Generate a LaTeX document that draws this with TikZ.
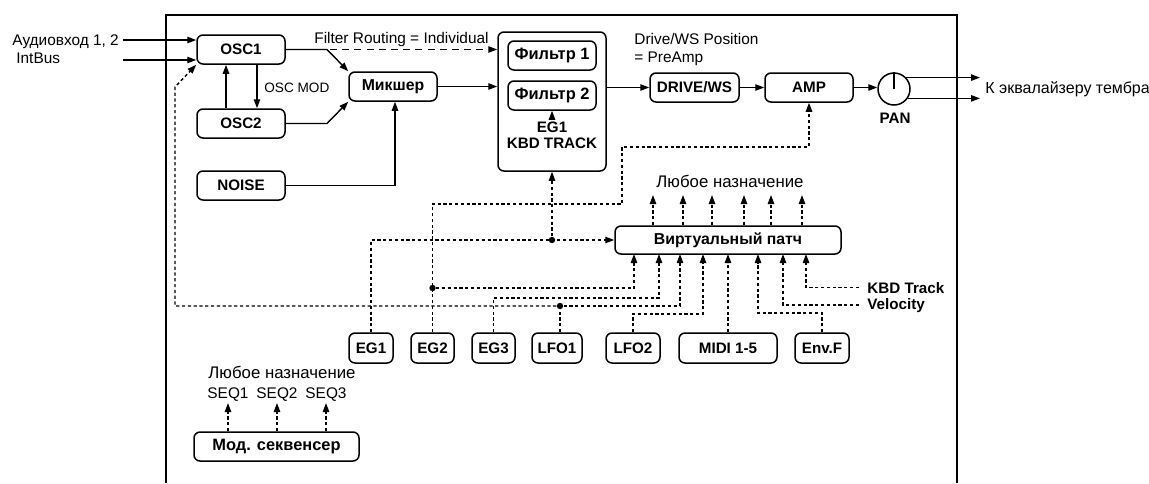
\documentclass[tikz,border=0pt]{standalone}
\usepackage{fontspec}
\setmainfont{Liberation Sans}
\usetikzlibrary{arrows.meta}
\begin{document}
\begin{tikzpicture}[x=0.5pt,y=-0.5pt,
  every node/.style={font=\fontsize{7.7}{9}\selectfont, inner sep=1pt},
  blk/.style={draw, line width=0.75pt, rounded corners=3pt, inner sep=0pt, minimum height=14.5pt, font=\fontsize{7.6}{9}\selectfont\bfseries},
  cyr/.style={font=\fontsize{8.2}{9}\selectfont\bfseries},
  con/.style={line width=0.7pt},
  arr/.style={con, -{Triangle[length=4.5pt,width=3.2pt]}},
  dsh/.style={dash pattern=on 1.6pt off 1.3pt},
  ldsh/.style={dash pattern=on 3.5pt off 2.6pt},
  jdot/.style={circle, fill, inner sep=0pt, minimum size=3.2pt},
  lbl/.style={anchor=base west},
  blbl/.style={anchor=base west, font=\fontsize{7.6}{9}\selectfont\bfseries}
]
\useasboundingbox (0,0) rectangle (1149,483);
% frame
\draw[line width=1pt] (166,483) -- (166,15) -- (957,15) -- (957,483);

% blocks
\node[blk, minimum width=44pt] (osc1) at (241,49.5) {OSC1};
\node[blk, minimum width=44pt] (osc2) at (241,123.5) {OSC2};
\node[blk, minimum width=44pt] (noise) at (241,185.5) {NOISE};
\node[blk, cyr, font=\fontsize{7.9}{9}\selectfont\bfseries, minimum width=44pt] (mix) at (393,86.5) {Микшер};
\node[blk, minimum width=54pt, minimum height=69.5pt] (filt) at (552,101.5) {};
\node[blk, cyr, minimum width=44pt] (f1) at (552,55.5) {Фильтр 1};
\node[blk, cyr, minimum width=44pt] (f2) at (552,95.5) {Фильтр 2};
\node[align=center, font=\fontsize{7.6}{8}\selectfont\bfseries, anchor=base] (egk) at (552,148) {EG1\\KBD TRACK};
\node[blk, minimum width=44.5pt] (drive) at (694.5,87.5) {DRIVE/WS};
\node[blk, minimum width=44pt] (amp) at (809,87.5) {AMP};
\node[draw, circle, line width=0.75pt, minimum size=16pt, inner sep=0pt] (pan) at (894,89) {};
\node[anchor=base, font=\fontsize{7.6}{9}\selectfont\bfseries] (panl) at (895,123) {PAN};
\node[blk, font=\fontsize{7.9}{9}\selectfont\bfseries, minimum width=113pt, minimum height=14pt] (vp) at (728,240) {Виртуальный патч};
\node[blk, minimum width=22pt, minimum height=15pt] (eg1) at (371,348) {EG1};
\node[blk, minimum width=21.5pt, minimum height=15pt] (eg2) at (432.5,348) {EG2};
\node[blk, minimum width=21.5pt, minimum height=15pt] (eg3) at (493.5,348) {EG3};
\node[blk, minimum width=25pt, minimum height=15pt] (lfo1) at (557,348) {LFO1};
\node[blk, minimum width=27pt, minimum height=15pt] (lfo2) at (633,348) {LFO2};
\node[blk, minimum width=49pt, minimum height=15pt] (midi) at (728,348) {MIDI 1-5};
\node[blk, minimum width=27pt, minimum height=15pt] (envf) at (822,348) {Env.F};
\node[blk, cyr, minimum width=82.5pt] (mod) at (276.5,446.5) {Мод. секвенсер};

% texts
\node[lbl] (in1) at (10,45) {Аудиовход 1, 2};
\node[lbl] (in2) at (14,63) {IntBus};
\node[lbl, font=\fontsize{6.8}{8}\selectfont] (oscmod) at (262,92) {OSC MOD};
\node[lbl] (froute) at (312,43) {Filter Routing = Individual};
\node[lbl] (dpos1) at (632,44) {Drive/WS Position};
\node[lbl] (dpos2) at (632,62) {= PreAmp};
\node[lbl, font=\fontsize{8}{9}\selectfont] (eq) at (983,93.5) {К эквалайзеру тембра};
\node[anchor=base, font=\fontsize{8.4}{9}\selectfont] (any1) at (730,187) {Любое назначение};
\node[blbl] (kbdt) at (865,293) {KBD Track};
\node[blbl] (vel) at (865,309) {Velocity};
\node[anchor=base, font=\fontsize{8.4}{9}\selectfont] (any2) at (282,378) {Любое назначение};
\node[anchor=base] (seq1) at (228,398) {SEQ1};
\node[anchor=base] (seq2) at (277,398) {SEQ2};
\node[anchor=base] (seq3) at (326,398) {SEQ3};

% helper coordinates
\coordinate (a1) at (123,40);
\coordinate (a2) at (123,60);
\coordinate (b1) at (327,49.5);
\coordinate (b2) at (327,123.5);
\coordinate (oe) at (980,89);
\foreach \x [count=\i] in {634,659,680,703,728,758,783,806} {\coordinate (v\i) at (\x,254);}
\foreach \x [count=\i] in {653,683,712,744,771,802} {\coordinate (t\i) at (\x,195);}
\coordinate (e2a) at (622,204);
\coordinate (e2b) at (622,147);
\coordinate (h3) at (659,298);
\coordinate (h5) at (703,314);
\coordinate (h6) at (758,313);
\coordinate (lp1) at (175,306);
\coordinate (lp2) at (175,87);
\coordinate (s1) at (228,403);
\coordinate (s2) at (277,403);
\coordinate (s3) at (326,403);

% audio path
\draw[arr] (a1) -- (a1 -| osc1.west);
\draw[arr] (a2) -- (a2 -| osc1.west);
\draw[arr] (osc1.east) -- (b1) -- (mix.north west);
\draw[arr] (osc2.east) -- (b2) -- (mix.south west);
\draw[arr] (noise.east) -| ([xshift=1pt]mix.south);
\draw[arr] ([xshift=-7.5pt]osc2.north) -- ([xshift=-7.5pt]osc1.south);
\draw[arr] ([xshift=8pt]osc1.south) -- ([xshift=8pt]osc2.north);
\draw[arr, ldsh] ([xshift=1.5pt]b1) -- (b1 -| filt.west);
\draw[arr] (mix.east) -- (mix.east -| filt.west);
\draw[arr] (filt.east |- drive.west) -- (drive.west);
\draw[arr] (drive.east) -- (amp.west);
\draw[arr] (amp.east) -- (amp.east -| pan.west);
\draw[con] (pan.center) -- (pan.north);
\draw[arr] (pan.43) -- (pan.43 -| oe);
\draw[arr] (pan.-34) -- (pan.-34 -| oe);

% modulation
\draw[arr,dsh] (egk.north) -- (f2.south);
\node[jdot] (j1) at (552,240) {};
\draw[arr,dsh] (eg1.north) |- (vp.west);
\draw[arr,dsh] (j1) -- (filt.south);
\draw[arr,dsh] (eg2.north) |- (e2a) -- (e2b) -| (amp.south);
\node[jdot] (j2) at (432.5,288) {};
\draw[arr,dsh] (j2) -| (v1);
\draw[arr,dsh] (eg3.north) |- (h3) -- (v2);
\node[jdot] (j3) at (560,306) {};
\draw[con,dsh] (j3 |- lfo1.north) -- (j3);
\draw[arr,dsh] (j3) -| (v3);
\draw[arr,dsh] (j3) -- (lp1) -- (lp2) -- (osc1.south west);
\draw[arr,dsh] (lfo2.north) |- (h5) -- (v4);
\draw[arr,dsh] (midi.north) -- (v5);
\draw[arr,dsh] (envf.north) |- (h6) -- (v6);
\draw[arr,dsh] ([xshift=-3pt]vel.west) -| (v7);
\draw[arr,dsh] ([xshift=-3pt]kbdt.west) -| (v8);
\foreach \i in {1,...,6} {\draw[arr,dsh] (vp.north -| t\i) -- (t\i);}
\foreach \i in {1,2,3} {\draw[arr,dsh] (mod.north -| s\i) -- (s\i);}
\end{tikzpicture}
\end{document}
